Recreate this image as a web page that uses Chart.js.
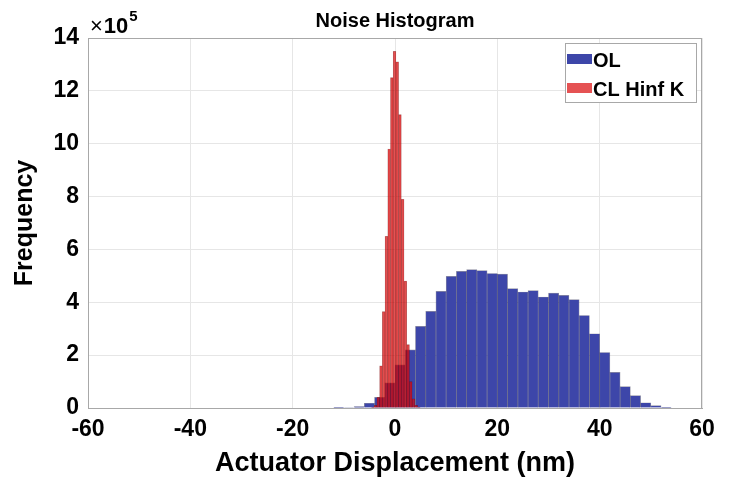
<!DOCTYPE html>
<html>
<head>
<meta charset="utf-8">
<script src="https://cdn.jsdelivr.net/npm/chart.js@4.4.0/dist/chart.umd.min.js"></script>
<style>
  html, body { margin: 0; padding: 0; background: #fff; }
</style>
</head>
<body>
<canvas id="histChart" width="730" height="481"></canvas>
<script>
// bin centres in nm, counts in units of 1e5
const olBins = [-11, -9, -7, -5, -3, -1, 1, 3, 5, 7, 9, 11, 13, 15, 17, 19, 21, 23, 25, 27, 29, 31, 33, 35, 37, 39, 41, 43, 45, 47, 49, 51, 53];
const olCounts = [0.01, 0.02, 0.05, 0.18, 0.4, 0.95, 1.63, 2.2, 3.09, 3.66, 4.41, 4.98, 5.17, 5.24, 5.2, 5.09, 5.07, 4.52, 4.39, 4.44, 4.2, 4.35, 4.26, 4.1, 3.5, 2.81, 2.1, 1.35, 0.81, 0.47, 0.2, 0.09, 0.03];
const clBins = [-4.33, -3.8, -3.27, -2.74, -2.21, -1.68, -1.15, -0.62, -0.09, 0.44, 0.97, 1.5, 2.03, 2.56, 3.09, 3.62, 4.15, 4.68];
const clCounts = [0.03, 0.1, 0.4, 1.6, 3.65, 6.5, 9.8, 12.5, 13.5, 13.1, 11.1, 7.9, 4.8, 2.4, 1.0, 0.35, 0.1, 0.03];
const xTicks = [-60, -40, -20, 0, 20, 40, 60];
const yTicks = [0, 2, 4, 6, 8, 10, 12, 14];
const seriesNames = ['OL', 'CL Hinf K'];

const FONT = "'Liberation Sans', Arial, Helvetica, sans-serif";
const olColor = '#3d46a9';
const clColor = 'rgba(218, 8, 10, 0.7)';

function toPoints(xs, ys) {
    return xs.map((x, i) => ({ x: x, y: ys[i] }));
}

// grey box round the plot area, like MATLAB's "box on"
const plotFrame = {
    id: 'plotFrame',
    afterDatasetsDraw(chart) {
        const { ctx, chartArea: a } = chart;
        ctx.save();
        ctx.strokeStyle = '#a8a8a8';
        ctx.lineWidth = 1;
        ctx.strokeRect(Math.round(a.left) + 0.5, Math.round(a.top) + 0.5,
            Math.round(a.right - a.left) - 1, Math.round(a.bottom - a.top));
        ctx.restore();
    }
};

// title centred over the axes, x10^5 exponent label and the boxed legend
const extras = {
    id: 'extras',
    afterDraw(chart) {
        const { ctx, chartArea: a } = chart;
        ctx.save();
        ctx.fillStyle = '#000';
        ctx.textBaseline = 'alphabetic';
        ctx.textAlign = 'center';
        ctx.font = 'bold 20px ' + FONT;
        ctx.fillText('Noise Histogram', (a.left + a.right) / 2, 27);

        ctx.textAlign = 'left';
        let x = a.left + 2;
        ctx.font = '22px ' + FONT;
        ctx.fillText('\u00d7', x, a.top - 5);
        x += ctx.measureText('\u00d7').width + 1;
        ctx.font = 'bold 22px ' + FONT;
        ctx.fillText('10', x, a.top - 5);
        x += ctx.measureText('10').width + 1;
        ctx.font = 'bold 15px ' + FONT;
        ctx.fillText('5', x, a.top - 17);

        // legend
        const bx = a.right - 137, by = a.top + 5, bw = 131, bh = 59;
        ctx.fillStyle = '#fff';
        ctx.fillRect(bx, by, bw, bh);
        ctx.strokeStyle = '#a8a8a8';
        ctx.lineWidth = 1;
        ctx.strokeRect(bx + 0.5, by + 0.5, bw, bh);
        ctx.font = 'bold 20px ' + FONT;
        ctx.textBaseline = 'middle';
        chart.data.datasets.forEach((ds, i) => {
            const cy = by + 16 + i * 29;
            ctx.fillStyle = ds.backgroundColor;
            ctx.fillRect(bx + 2, cy - 5, 25, 10);
            ctx.fillStyle = '#000';
            ctx.fillText(ds.label, bx + 28, cy + 2);
        });
        ctx.restore();
    }
};

const chart = new Chart(document.getElementById('histChart'), {
    type: 'bar',
    data: {
        datasets: [
            {
                label: seriesNames[0],
                data: toPoints(olBins, olCounts),
                backgroundColor: olColor,
                borderColor: 'rgba(10, 10, 50, 0.45)',
                borderWidth: 0.7,
                stack: 'hist',
                order: 1
            },
            {
                label: seriesNames[1],
                data: toPoints(clBins, clCounts),
                backgroundColor: clColor,
                borderColor: 'rgba(90, 0, 0, 0.45)',
                borderWidth: 0.5,
                stack: 'hist',
                order: 0
            }
        ]
    },
    options: {
        responsive: false,
        animation: false,
        devicePixelRatio: 1,
        barThickness: 'flex',
        categoryPercentage: 1,
        barPercentage: 1,
        layout: { padding: { left: 0, right: 28, top: 38, bottom: 0 } },
        plugins: {
            legend: { display: false },
            tooltip: { enabled: false },
            title: { display: false }
        },
        scales: {
            x: {
                type: 'linear',
                min: -60,
                max: 60,
                offset: false,
                stacked: true,   // keeps both histograms in one "stack" slot so they overlap
                afterBuildTicks: (s) => { s.ticks = xTicks.map(v => ({ value: v })); },
                afterFit: (s) => { s.height = 73; },
                grid: { color: '#e6e6e6', drawTicks: false, offset: false },
                border: { display: true, color: '#a8a8a8' },
                ticks: {
                    color: '#000',
                    padding: 8,
                    maxRotation: 0,
                    font: { family: FONT, size: 23, weight: 'bold' }
                },
                title: {
                    display: true,
                    text: 'Actuator Displacement (nm)',
                    color: '#000',
                    font: { family: FONT, size: 27, weight: 'bold', lineHeight: 1.2 },
                    padding: { top: 0, bottom: 1 }
                }
            },
            y: {
                min: 0,
                max: 14,
                stacked: false,
                afterBuildTicks: (s) => { s.ticks = yTicks.map(v => ({ value: v })); },
                afterFit: (s) => { s.width = 88; },
                grid: { color: '#e6e6e6', drawTicks: false },
                border: { display: true, color: '#a8a8a8' },
                ticks: {
                    color: '#000',
                    padding: 9,
                    font: { family: FONT, size: 23, weight: 'bold' }
                },
                title: {
                    display: true,
                    text: 'Frequency',
                    color: '#000',
                    font: { family: FONT, size: 25, weight: 'bold', lineHeight: 1.2 },
                    padding: { top: 10, bottom: 0 }
                }
            }
        }
    },
    plugins: [plotFrame, extras]
});
</script>
</body>
</html>
